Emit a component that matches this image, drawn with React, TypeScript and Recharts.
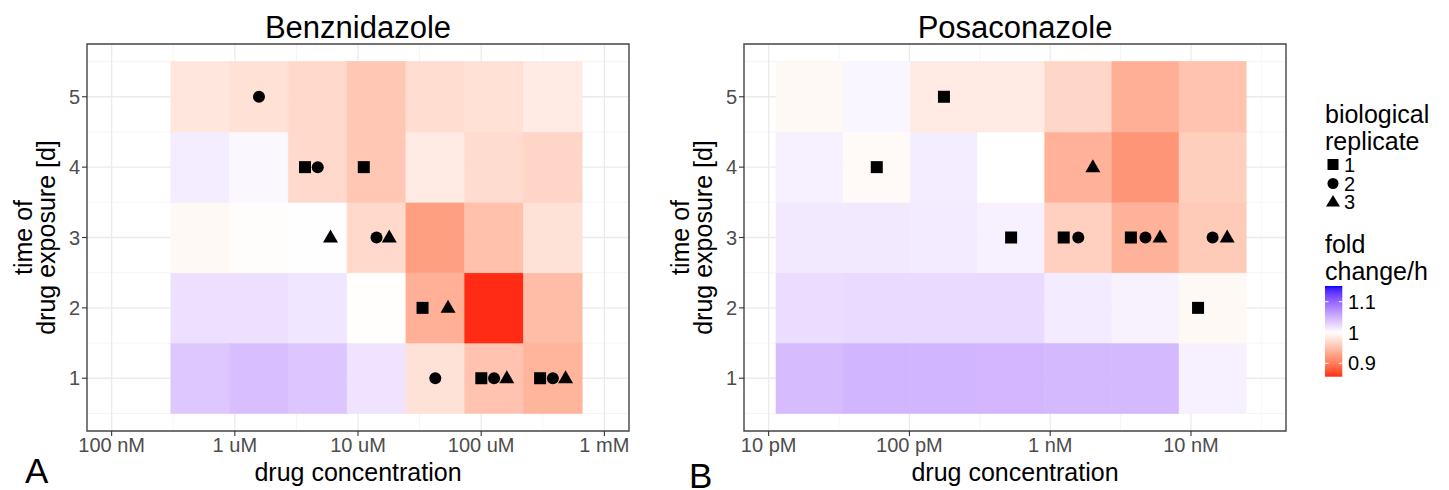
import React from 'react';
import {
  ComposedChart,
  XAxis,
  YAxis,
  CartesianGrid,
  ReferenceArea,
  Scatter,
} from 'recharts';

// ---------------- data ----------------
const days = [1, 2, 3, 4, 5];

// log10 of molar concentration of the lowest column, 3-fold dilution series
const benzFirstLog = -6.281;
const posaFirstLog = -10.709;
const dilutionStep = Math.log10(3);
const replicateShift = 0.1035; // dodge of replicate symbols (decades)

// fold change / h, rows = day 1..5, columns = low -> high concentration
const benzDay1 = [1.036, 1.042, 1.037, 1.018, 0.977, 0.953, 0.941];
const benzDay2 = [1.02, 1.02, 1.016, 0.999, 0.938, 0.857, 0.947];
const benzDay3 = [0.995, 0.998, 1.001, 0.97, 0.925, 0.951, 0.977];
const benzDay4 = [1.012, 1.005, 0.97, 0.956, 0.984, 0.972, 0.967];
const benzDay5 = [0.981, 0.976, 0.97, 0.956, 0.973, 0.976, 0.984];

const posaDay1 = [1.044, 1.048, 1.048, 1.047, 1.045, 1.045, 1.009];
const posaDay2 = [1.022, 1.024, 1.024, 1.024, 1.013, 1.008, 0.995];
const posaDay3 = [1.014, 1.014, 1.013, 1.009, 0.963, 0.94, 0.959];
const posaDay4 = [1.009, 0.996, 1.012, 1.0, 0.939, 0.918, 0.962];
const posaDay5 = [0.995, 1.006, 0.984, 0.984, 0.968, 0.937, 0.953];

// significant replicates: column (1-based), day, replicate, dodge slot
const benzMarkers = [
  { col: 2, day: 5, rep: 2, slot: 0 },
  { col: 3, day: 4, rep: 1, slot: -1 },
  { col: 3, day: 4, rep: 2, slot: 0 },
  { col: 4, day: 4, rep: 1, slot: -1 },
  { col: 3, day: 3, rep: 3, slot: 1 },
  { col: 4, day: 3, rep: 2, slot: 0 },
  { col: 4, day: 3, rep: 3, slot: 1 },
  { col: 5, day: 2, rep: 1, slot: -1 },
  { col: 5, day: 2, rep: 3, slot: 1 },
  { col: 5, day: 1, rep: 2, slot: 0 },
  { col: 6, day: 1, rep: 1, slot: -1 },
  { col: 6, day: 1, rep: 2, slot: 0 },
  { col: 6, day: 1, rep: 3, slot: 1 },
  { col: 7, day: 1, rep: 1, slot: -1 },
  { col: 7, day: 1, rep: 2, slot: 0 },
  { col: 7, day: 1, rep: 3, slot: 1 },
];
const posaMarkers = [
  { col: 3, day: 5, rep: 1, slot: 0 },
  { col: 2, day: 4, rep: 1, slot: 0 },
  { col: 5, day: 4, rep: 3, slot: 1 },
  { col: 4, day: 3, rep: 1, slot: 0 },
  { col: 5, day: 3, rep: 1, slot: -1 },
  { col: 5, day: 3, rep: 2, slot: 0 },
  { col: 6, day: 3, rep: 1, slot: -1 },
  { col: 6, day: 3, rep: 2, slot: 0 },
  { col: 6, day: 3, rep: 3, slot: 1 },
  { col: 7, day: 3, rep: 2, slot: 0 },
  { col: 7, day: 3, rep: 3, slot: 1 },
  { col: 7, day: 2, rep: 1, slot: -1 },
];

const benzTicks = [-7, -6, -5, -4, -3];
const benzTickLabels = ['100 nM', '1 uM', '10 uM', '100 uM', '1 mM'];
const posaTicks = [-11, -10, -9, -8];
const posaTickLabels = ['10 pM', '100 pM', '1 nM', '10 nM'];
const benzDomain: [number, number] = [-7.2, -2.8];
const posaDomain: [number, number] = [-11.175, -7.325];
const dayTicks = [1, 2, 3, 4, 5];

const fcMin = 0.8565;
const fcMax = 1.151;
const fcMid = 1;
const legendBreaks = [1.1, 1.0, 0.9];
const replicateLabels = ['1', '2', '3'];

// ---------------- colour scale (gradient2 in Lab) ----------------
type V3 = [number, number, number];
const toLin = (c: number) => {
  const v = c / 255;
  return v <= 0.04045 ? v / 12.92 : Math.pow((v + 0.055) / 1.055, 2.4);
};
const toS = (c: number) => {
  const x = Math.max(0, Math.min(1, c));
  const v = x <= 0.0031308 ? 12.92 * x : 1.055 * Math.pow(x, 1 / 2.4) - 0.055;
  return Math.round(v * 255);
};
const rgbToLab = ([r, g, b]: V3): V3 => {
  const R = toLin(r), G = toLin(g), B = toLin(b);
  const X = (0.4124 * R + 0.3576 * G + 0.1805 * B) / 0.95047;
  const Y = 0.2126 * R + 0.7152 * G + 0.0722 * B;
  const Z = (0.0193 * R + 0.1192 * G + 0.9505 * B) / 1.08883;
  const f = (t: number) => (t > 0.008856 ? Math.cbrt(t) : 7.787 * t + 16 / 116);
  const fx = f(X), fy = f(Y), fz = f(Z);
  return [116 * fy - 16, 500 * (fx - fy), 200 * (fy - fz)];
};
const labToHex = ([L, a, b]: V3) => {
  const fy = (L + 16) / 116;
  const fx = fy + a / 500;
  const fz = fy - b / 200;
  const inv = (t: number) => (t > 0.206893 ? t * t * t : (t - 16 / 116) / 7.787);
  const X = 0.95047 * inv(fx), Y = inv(fy), Z = 1.08883 * inv(fz);
  const R = 3.2406 * X - 1.5372 * Y - 0.4986 * Z;
  const G = -0.9689 * X + 1.8758 * Y + 0.0415 * Z;
  const B = 0.0557 * X - 0.204 * Y + 1.057 * Z;
  const h = (n: number) => toS(n).toString(16).padStart(2, '0');
  return '#' + h(R) + h(G) + h(B);
};
const labWhite = rgbToLab([255, 255, 255]);
const labRed = rgbToLab([255, 0, 0]);
const labBlue = rgbToLab([0, 0, 255]);
const fcHalf = Math.max(fcMax - fcMid, fcMid - fcMin);
const fillFor = (v: number) => {
  const t = Math.max(-1, Math.min(1, (v - fcMid) / fcHalf));
  const end = t < 0 ? labRed : labBlue;
  const k = Math.abs(t);
  return labToHex([
    labWhite[0] + (end[0] - labWhite[0]) * k,
    labWhite[1] + (end[1] - labWhite[1]) * k,
    labWhite[2] + (end[2] - labWhite[2]) * k,
  ]);
};

// ---------------- shapes ----------------
const SquareShape = (p: any) => (
  <rect x={p.cx - 6} y={p.cy - 6} width={12} height={12} fill="#000" />
);
const CircleShape = (p: any) => <circle cx={p.cx} cy={p.cy} r={6} fill="#000" />;
const TriangleShape = (p: any) => (
  <polygon
    points={`${p.cx},${p.cy - 8} ${p.cx - 7.5},${p.cy + 5} ${p.cx + 7.5},${p.cy + 5}`}
    fill="#000"
  />
);
const shapes = [SquareShape, CircleShape, TriangleShape];

const FONT = '"Liberation Sans", Arial, Helvetica, sans-serif';

type PanelProps = {
  rows: number[][];
  firstLog: number;
  markers: { col: number; day: number; rep: number; slot: number }[];
  ticks: number[];
  tickLabels: string[];
  domain: [number, number];
};

const minorOf = (d: [number, number], ticks: number[]) => {
  const out: number[] = [];
  for (let v = ticks[0] - 0.5; v <= ticks[ticks.length - 1] + 0.5; v += 1) {
    if (v > d[0] && v < d[1]) out.push(v);
  }
  return out;
};

const Panel = ({ rows, firstLog, markers, ticks, tickLabels, domain }: PanelProps) => {
  const colCenter = (c: number) => firstLog + (c - 1) * dilutionStep;
  const tiles: { x: number; day: number; v: number }[] = [];
  rows.forEach((row, i) =>
    row.forEach((v, j) => tiles.push({ x: colCenter(j + 1), day: days[i], v }))
  );
  const seriesData = [1, 2, 3].map((rep) =>
    markers
      .filter((m) => m.rep === rep)
      .map((m) => ({ x: colCenter(m.col) + m.slot * replicateShift, y: m.day }))
  );
  const labelOf = (v: number) => {
    const i = ticks.indexOf(v);
    return i >= 0 ? tickLabels[i] : '';
  };
  return (
    <ComposedChart
      width={690}
      height={490}
      margin={{ top: 44, right: 61, bottom: 0, left: 0 }}
      style={{ fontFamily: FONT }}
    >
      <CartesianGrid
        stroke="#F0F0F0"
        strokeWidth={0.7}
        verticalValues={minorOf(domain, ticks)}
        horizontalValues={[0.5, 1.5, 2.5, 3.5, 4.5, 5.5]}
      />
      <CartesianGrid
        stroke="#EBEBEB"
        strokeWidth={1.3}
        verticalValues={ticks}
        horizontalValues={dayTicks}
      />
      <XAxis
        type="number"
        dataKey="x"
        domain={domain}
        ticks={ticks}
        allowDataOverflow
        tickFormatter={labelOf}
        axisLine={false}
        tickSize={5}
        tickMargin={2}
        tickLine={{ stroke: '#333333', strokeWidth: 1.1 }}
        tick={{ fill: '#4D4D4D', fontSize: 20 }}
        height={59}
        label={{
          value: 'drug concentration',
          position: 'insideBottom',
          offset: 9,
          fill: '#000',
          fontSize: 25,
        }}
      />
      <YAxis
        type="number"
        dataKey="y"
        domain={[0.25, 5.75]}
        ticks={dayTicks}
        allowDataOverflow
        axisLine={false}
        tickSize={5}
        tickMargin={2}
        tickLine={{ stroke: '#333333', strokeWidth: 1.1 }}
        tick={{ fill: '#4D4D4D', fontSize: 20 }}
        width={87}
        label={{
          content: (props: any) => {
            const vb = props.viewBox || { x: 0, y: 44, width: 87, height: 387 };
            const cy = vb.y + vb.height / 2;
            return (
              <g>
                <text
                  transform={`translate(31.5,${cy}) rotate(-90)`}
                  textAnchor="middle"
                  fontSize={25}
                  fill="#000"
                >
                  time of
                </text>
                <text
                  transform={`translate(55,${cy}) rotate(-90)`}
                  textAnchor="middle"
                  fontSize={25}
                  fill="#000"
                >
                  drug exposure [d]
                </text>
              </g>
            );
          },
        }}
      />
      {tiles.map((t, i) => (
        <ReferenceArea
          key={'t' + i}
          x1={t.x - dilutionStep / 2}
          x2={t.x + dilutionStep / 2}
          y1={t.day - 0.5}
          y2={t.day + 0.5}
          fill={fillFor(t.v)}
          fillOpacity={1}
          stroke={fillFor(t.v)}
          strokeWidth={0.6}
          ifOverflow="visible"
        />
      ))}
      <ReferenceArea
        x1={domain[0]}
        x2={domain[1]}
        y1={0.25}
        y2={5.75}
        fill="none"
        fillOpacity={0}
        stroke="#444444"
        strokeWidth={1.4}
        ifOverflow="visible"
      />
      {seriesData.map((d, i) => (
        <Scatter
          key={'s' + i}
          data={d}
          dataKey="y"
          shape={shapes[i]}
          isAnimationActive={false}
        />
      ))}
    </ComposedChart>
  );
};

// ---------------- legend ----------------
const Legend = () => {
  const barX = 1325, barY = 286, barW = 17.3, barH = 90.7;
  const n = 40;
  const stops = Array.from({ length: n + 1 }, (_, i) => {
    const v = fcMax - ((fcMax - fcMin) * i) / n;
    return { off: i / n, c: fillFor(v) };
  });
  const yOf = (v: number) => barY + ((fcMax - v) / (fcMax - fcMin)) * barH;
  const keyY = [164.5, 183.5, 202];
  return (
    <g fontFamily={FONT}>
      <defs>
        <linearGradient id="fcgrad" x1="0" y1="0" x2="0" y2="1">
          {stops.map((s, i) => (
            <stop key={i} offset={s.off} stopColor={s.c} />
          ))}
        </linearGradient>
      </defs>
      <text x={1325} y={123} fontSize={25} fill="#000">biological</text>
      <text x={1325} y={150} fontSize={25} fill="#000">replicate</text>
      <rect x={1327.5} y={keyY[0] - 5.5} width={11} height={11} fill="#000" />
      <circle cx={1333} cy={keyY[1]} r={5.5} fill="#000" />
      <polygon
        points={`1333,${keyY[2] - 7} 1326,${keyY[2] + 4.5} 1340,${keyY[2] + 4.5}`}
        fill="#000"
      />
      {replicateLabels.map((l, i) => (
        <text key={l} x={1344} y={keyY[i] + 7} fontSize={20} fill="#000">
          {l}
        </text>
      ))}
      <text x={1325} y={253} fontSize={25} fill="#000">fold</text>
      <text x={1325} y={280} fontSize={25} fill="#000">change/h</text>
      <rect x={barX} y={barY} width={barW} height={barH} fill="url(#fcgrad)" />
      {legendBreaks.map((b) => (
        <g key={b}>
          <line x1={barX} x2={barX + 3.5} y1={yOf(b)} y2={yOf(b)} stroke="#fff" strokeWidth={1} />
          <line x1={barX + barW - 3.5} x2={barX + barW} y1={yOf(b)} y2={yOf(b)} stroke="#fff" strokeWidth={1} />
          <text x={1348} y={yOf(b) + 7} fontSize={20} fill="#000">
            {String(b)}
          </text>
        </g>
      ))}
    </g>
  );
};

export default function App() {
  return (
    <div
      style={{
        position: 'absolute',
        left: 0,
        top: 0,
        width: 1449,
        height: 490,
        background: '#fff',
        overflow: 'hidden',
        fontFamily: FONT,
      }}
    >
      <div style={{ position: 'absolute', left: 0, top: 0 }}>
        <Panel
          rows={[benzDay1, benzDay2, benzDay3, benzDay4, benzDay5]}
          firstLog={benzFirstLog}
          markers={benzMarkers}
          ticks={benzTicks}
          tickLabels={benzTickLabels}
          domain={benzDomain}
        />
      </div>
      <div style={{ position: 'absolute', left: 657, top: 0 }}>
        <Panel
          rows={[posaDay1, posaDay2, posaDay3, posaDay4, posaDay5]}
          firstLog={posaFirstLog}
          markers={posaMarkers}
          ticks={posaTicks}
          tickLabels={posaTickLabels}
          domain={posaDomain}
        />
      </div>
      <svg
        width={1449}
        height={490}
        style={{ position: 'absolute', left: 0, top: 0, pointerEvents: 'none' }}
      >
        <g fontFamily={FONT} fill="#000">
          <text x={358} y={37.5} fontSize={31} textAnchor="middle">Benznidazole</text>
          <text x={1015} y={37.5} fontSize={31} textAnchor="middle">Posaconazole</text>
          <text x={25} y={483} fontSize={35}>A</text>
          <text x={689} y={488} fontSize={35}>B</text>
        </g>
        <Legend />
      </svg>
    </div>
  );
}
